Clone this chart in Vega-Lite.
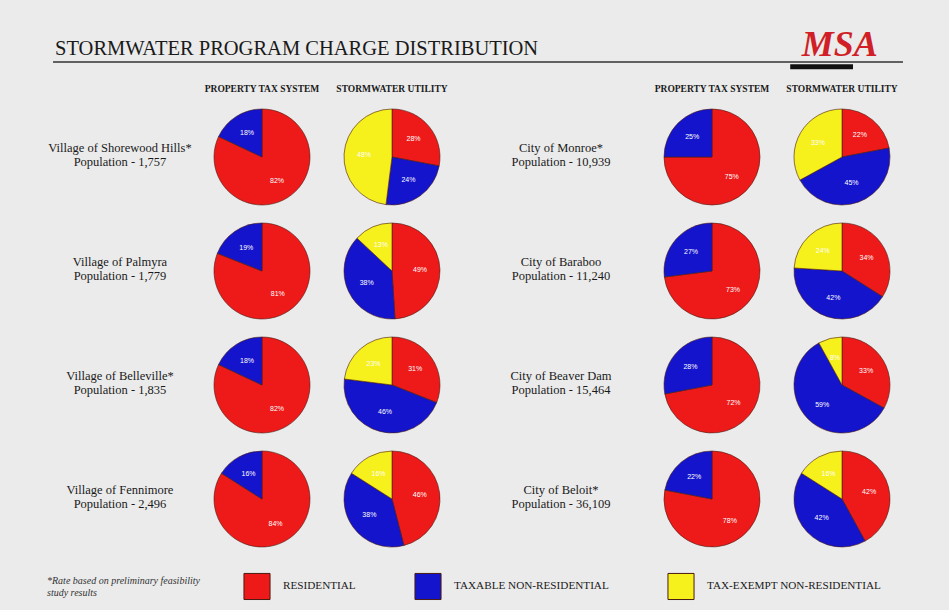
{
  "$schema": "https://vega.github.io/schema/vega-lite/v6.json",
  "background": "#ebebeb",
  "padding": {"left": 47, "top": 27, "right": 50, "bottom": 13},
  "config": {
    "view": {"stroke": null},
    "font": "Liberation Serif",
    "header": {"labelFont": "Liberation Serif", "titleFont": "Liberation Serif"}
  },
  "datasets": {
    "pies": [
      {"side": "L", "rowIdx": 1, "place": "Village of Shorewood Hills*|Population - 1,757", "system": "PROPERTY TAX SYSTEM", "category": "RESIDENTIAL", "k": 1, "pct": 0.82},
      {"side": "L", "rowIdx": 1, "place": "Village of Shorewood Hills*|Population - 1,757", "system": "PROPERTY TAX SYSTEM", "category": "TAXABLE NON-RESIDENTIAL", "k": 2, "pct": 0.18},
      {"side": "L", "rowIdx": 1, "place": "Village of Shorewood Hills*|Population - 1,757", "system": "STORMWATER UTILITY", "category": "RESIDENTIAL", "k": 1, "pct": 0.28},
      {"side": "L", "rowIdx": 1, "place": "Village of Shorewood Hills*|Population - 1,757", "system": "STORMWATER UTILITY", "category": "TAXABLE NON-RESIDENTIAL", "k": 2, "pct": 0.24},
      {"side": "L", "rowIdx": 1, "place": "Village of Shorewood Hills*|Population - 1,757", "system": "STORMWATER UTILITY", "category": "TAX-EXEMPT NON-RESIDENTIAL", "k": 3, "pct": 0.48},
      {"side": "L", "rowIdx": 2, "place": "Village of Palmyra|Population - 1,779", "system": "PROPERTY TAX SYSTEM", "category": "RESIDENTIAL", "k": 1, "pct": 0.81},
      {"side": "L", "rowIdx": 2, "place": "Village of Palmyra|Population - 1,779", "system": "PROPERTY TAX SYSTEM", "category": "TAXABLE NON-RESIDENTIAL", "k": 2, "pct": 0.19},
      {"side": "L", "rowIdx": 2, "place": "Village of Palmyra|Population - 1,779", "system": "STORMWATER UTILITY", "category": "RESIDENTIAL", "k": 1, "pct": 0.49},
      {"side": "L", "rowIdx": 2, "place": "Village of Palmyra|Population - 1,779", "system": "STORMWATER UTILITY", "category": "TAXABLE NON-RESIDENTIAL", "k": 2, "pct": 0.38},
      {"side": "L", "rowIdx": 2, "place": "Village of Palmyra|Population - 1,779", "system": "STORMWATER UTILITY", "category": "TAX-EXEMPT NON-RESIDENTIAL", "k": 3, "pct": 0.13},
      {"side": "L", "rowIdx": 3, "place": "Village of Belleville*|Population - 1,835", "system": "PROPERTY TAX SYSTEM", "category": "RESIDENTIAL", "k": 1, "pct": 0.82},
      {"side": "L", "rowIdx": 3, "place": "Village of Belleville*|Population - 1,835", "system": "PROPERTY TAX SYSTEM", "category": "TAXABLE NON-RESIDENTIAL", "k": 2, "pct": 0.18},
      {"side": "L", "rowIdx": 3, "place": "Village of Belleville*|Population - 1,835", "system": "STORMWATER UTILITY", "category": "RESIDENTIAL", "k": 1, "pct": 0.31},
      {"side": "L", "rowIdx": 3, "place": "Village of Belleville*|Population - 1,835", "system": "STORMWATER UTILITY", "category": "TAXABLE NON-RESIDENTIAL", "k": 2, "pct": 0.46},
      {"side": "L", "rowIdx": 3, "place": "Village of Belleville*|Population - 1,835", "system": "STORMWATER UTILITY", "category": "TAX-EXEMPT NON-RESIDENTIAL", "k": 3, "pct": 0.23},
      {"side": "L", "rowIdx": 4, "place": "Village of Fennimore|Population - 2,496", "system": "PROPERTY TAX SYSTEM", "category": "RESIDENTIAL", "k": 1, "pct": 0.84},
      {"side": "L", "rowIdx": 4, "place": "Village of Fennimore|Population - 2,496", "system": "PROPERTY TAX SYSTEM", "category": "TAXABLE NON-RESIDENTIAL", "k": 2, "pct": 0.16},
      {"side": "L", "rowIdx": 4, "place": "Village of Fennimore|Population - 2,496", "system": "STORMWATER UTILITY", "category": "RESIDENTIAL", "k": 1, "pct": 0.46},
      {"side": "L", "rowIdx": 4, "place": "Village of Fennimore|Population - 2,496", "system": "STORMWATER UTILITY", "category": "TAXABLE NON-RESIDENTIAL", "k": 2, "pct": 0.38},
      {"side": "L", "rowIdx": 4, "place": "Village of Fennimore|Population - 2,496", "system": "STORMWATER UTILITY", "category": "TAX-EXEMPT NON-RESIDENTIAL", "k": 3, "pct": 0.16},
      {"side": "R", "rowIdx": 1, "place": "City of Monroe*|Population - 10,939", "system": "PROPERTY TAX SYSTEM", "category": "RESIDENTIAL", "k": 1, "pct": 0.75},
      {"side": "R", "rowIdx": 1, "place": "City of Monroe*|Population - 10,939", "system": "PROPERTY TAX SYSTEM", "category": "TAXABLE NON-RESIDENTIAL", "k": 2, "pct": 0.25},
      {"side": "R", "rowIdx": 1, "place": "City of Monroe*|Population - 10,939", "system": "STORMWATER UTILITY", "category": "RESIDENTIAL", "k": 1, "pct": 0.22},
      {"side": "R", "rowIdx": 1, "place": "City of Monroe*|Population - 10,939", "system": "STORMWATER UTILITY", "category": "TAXABLE NON-RESIDENTIAL", "k": 2, "pct": 0.45},
      {"side": "R", "rowIdx": 1, "place": "City of Monroe*|Population - 10,939", "system": "STORMWATER UTILITY", "category": "TAX-EXEMPT NON-RESIDENTIAL", "k": 3, "pct": 0.33},
      {"side": "R", "rowIdx": 2, "place": "City of Baraboo|Population - 11,240", "system": "PROPERTY TAX SYSTEM", "category": "RESIDENTIAL", "k": 1, "pct": 0.73},
      {"side": "R", "rowIdx": 2, "place": "City of Baraboo|Population - 11,240", "system": "PROPERTY TAX SYSTEM", "category": "TAXABLE NON-RESIDENTIAL", "k": 2, "pct": 0.27},
      {"side": "R", "rowIdx": 2, "place": "City of Baraboo|Population - 11,240", "system": "STORMWATER UTILITY", "category": "RESIDENTIAL", "k": 1, "pct": 0.34},
      {"side": "R", "rowIdx": 2, "place": "City of Baraboo|Population - 11,240", "system": "STORMWATER UTILITY", "category": "TAXABLE NON-RESIDENTIAL", "k": 2, "pct": 0.42},
      {"side": "R", "rowIdx": 2, "place": "City of Baraboo|Population - 11,240", "system": "STORMWATER UTILITY", "category": "TAX-EXEMPT NON-RESIDENTIAL", "k": 3, "pct": 0.24},
      {"side": "R", "rowIdx": 3, "place": "City of Beaver Dam|Population - 15,464", "system": "PROPERTY TAX SYSTEM", "category": "RESIDENTIAL", "k": 1, "pct": 0.72},
      {"side": "R", "rowIdx": 3, "place": "City of Beaver Dam|Population - 15,464", "system": "PROPERTY TAX SYSTEM", "category": "TAXABLE NON-RESIDENTIAL", "k": 2, "pct": 0.28},
      {"side": "R", "rowIdx": 3, "place": "City of Beaver Dam|Population - 15,464", "system": "STORMWATER UTILITY", "category": "RESIDENTIAL", "k": 1, "pct": 0.33},
      {"side": "R", "rowIdx": 3, "place": "City of Beaver Dam|Population - 15,464", "system": "STORMWATER UTILITY", "category": "TAXABLE NON-RESIDENTIAL", "k": 2, "pct": 0.59},
      {"side": "R", "rowIdx": 3, "place": "City of Beaver Dam|Population - 15,464", "system": "STORMWATER UTILITY", "category": "TAX-EXEMPT NON-RESIDENTIAL", "k": 3, "pct": 0.08},
      {"side": "R", "rowIdx": 4, "place": "City of Beloit*|Population - 36,109", "system": "PROPERTY TAX SYSTEM", "category": "RESIDENTIAL", "k": 1, "pct": 0.78},
      {"side": "R", "rowIdx": 4, "place": "City of Beloit*|Population - 36,109", "system": "PROPERTY TAX SYSTEM", "category": "TAXABLE NON-RESIDENTIAL", "k": 2, "pct": 0.22},
      {"side": "R", "rowIdx": 4, "place": "City of Beloit*|Population - 36,109", "system": "STORMWATER UTILITY", "category": "RESIDENTIAL", "k": 1, "pct": 0.42},
      {"side": "R", "rowIdx": 4, "place": "City of Beloit*|Population - 36,109", "system": "STORMWATER UTILITY", "category": "TAXABLE NON-RESIDENTIAL", "k": 2, "pct": 0.42},
      {"side": "R", "rowIdx": 4, "place": "City of Beloit*|Population - 36,109", "system": "STORMWATER UTILITY", "category": "TAX-EXEMPT NON-RESIDENTIAL", "k": 3, "pct": 0.16}
    ]
  },
  "spacing": 13,
  "vconcat": [
    {
      "width": 690,
      "height": 6,
      "data": {"values": [{"title": "STORMWATER PROGRAM CHARGE DISTRIBUTION", "logo": "MSA"}]},
      "layer": [
        {
          "mark": {"type": "rule", "color": "#333333", "strokeWidth": 1.5},
          "encoding": {
            "x": {"datum": -0.2304, "type": "quantitative", "scale": {"domain": [0, 1]}, "axis": null},
            "x2": {"datum": 1.0014},
            "y": {"datum": 0, "type": "quantitative", "scale": {"domain": [0, 1]}, "axis": null}
          }
        },
        {
          "mark": {"type": "rule", "color": "#111111", "strokeWidth": 5},
          "encoding": {
            "x": {"datum": 0.838, "type": "quantitative"},
            "x2": {"datum": 0.929},
            "y": {"datum": -0.8, "type": "quantitative"}
          }
        },
        {
          "mark": {"type": "text", "color": "#1a1a1a", "font": "Liberation Serif", "fontSize": 20.5, "align": "left", "baseline": "alphabetic", "dy": -7},
          "encoding": {
            "x": {"datum": -0.2275, "type": "quantitative"},
            "y": {"datum": 0, "type": "quantitative"},
            "text": {"field": "title"}
          }
        },
        {
          "mark": {"type": "text", "color": "#d01f26", "font": "Liberation Sans Narrow", "fontSize": 36, "fontWeight": "bold", "fontStyle": "italic", "align": "right", "baseline": "alphabetic", "dy": -6},
          "encoding": {
            "x": {"datum": 0.965, "type": "quantitative"},
            "y": {"datum": 0, "type": "quantitative"},
            "text": {"field": "logo"}
          }
        }
      ]
    },
    {
      "hconcat": [
        {
          "data": {"name": "pies"},
          "transform": [{"filter": "datum.side === 'L'"}],
          "facet": {
            "row": {"field": "place", "type": "nominal", "sort": {"field": "rowIdx", "op": "min"}, "title": null, "header": {"labels": false}},
            "column": {"field": "system", "type": "nominal", "sort": ["PROPERTY TAX SYSTEM", "STORMWATER UTILITY"], "title": null,
              "header": {"labelFontSize": 9.5, "labelFontWeight": "bold", "labelColor": "#1a1a1a", "labelPadding": 14}}
          },
          "spacing": {"row": 14, "column": 30},
          "spec": {
            "width": 100,
            "height": 100,
            "layer": [
              {
                "mark": {"type": "arc", "outerRadius": 48, "stroke": "#4a1a10", "strokeWidth": 1, "strokeOpacity": 0.6},
                "encoding": {
                  "theta": {"field": "pct", "type": "quantitative", "stack": true},
                  "order": {"field": "k"},
                  "color": {"field": "category", "type": "nominal",
                    "scale": {"domain": ["RESIDENTIAL", "TAXABLE NON-RESIDENTIAL", "TAX-EXEMPT NON-RESIDENTIAL"], "range": ["#ee1a1a", "#1414cc", "#f6f01c"]},
                    "legend": {"orient": "none", "legendX": -165, "legendY": 516, "direction": "horizontal", "title": ["*Rate based on preliminary feasibility", "study results"], "titleOrient": "left", "titleFontSize": 10, "titleFontWeight": "normal", "titleFontStyle": "italic", "titleColor": "#333333", "titlePadding": 43, "titleFont": "Liberation Serif", "titleLimit": 300, "symbolType": "square", "symbolSize": 680, "symbolStrokeColor": "#333333", "symbolStrokeWidth": 1, "symbolOpacity": 1, "labelFontSize": 11.2, "labelFont": "Liberation Serif", "labelColor": "#1a1a1a", "labelOffset": 12, "columnPadding": 56, "labelLimit": 300}}
                }
              },
              {
                "mark": {"type": "text", "radius": 28, "color": "white", "fontSize": 7, "font": "Liberation Sans"},
                "encoding": {
                  "theta": {"field": "pct", "type": "quantitative", "stack": true},
                  "order": {"field": "k"},
                  "detail": {"field": "category"},
                  "text": {"field": "pct", "type": "quantitative", "format": ".0%"}
                }
              },
              {
                "transform": [{"filter": "datum.system === 'PROPERTY TAX SYSTEM' && datum.k === 1"}],
                "mark": {"type": "text", "dx": -142, "dy": -9, "lineBreak": "|", "lineHeight": 14, "fontSize": 12.5, "color": "#1a1a1a", "font": "Liberation Serif", "align": "center", "baseline": "middle"},
                "encoding": {"text": {"field": "place"}}
              }
            ]
          }
        },
        {
          "data": {"name": "pies"},
          "transform": [{"filter": "datum.side === 'R'"}],
          "facet": {
            "row": {"field": "place", "type": "nominal", "sort": {"field": "rowIdx", "op": "min"}, "title": null, "header": {"labels": false}},
            "column": {"field": "system", "type": "nominal", "sort": ["PROPERTY TAX SYSTEM", "STORMWATER UTILITY"], "title": null,
              "header": {"labelFontSize": 9.5, "labelFontWeight": "bold", "labelColor": "#1a1a1a", "labelPadding": 14}}
          },
          "spacing": {"row": 14, "column": 30},
          "spec": {
            "width": 100,
            "height": 100,
            "layer": [
              {
                "mark": {"type": "arc", "outerRadius": 48, "stroke": "#4a1a10", "strokeWidth": 1, "strokeOpacity": 0.6},
                "encoding": {
                  "theta": {"field": "pct", "type": "quantitative", "stack": true},
                  "order": {"field": "k"},
                  "color": {"field": "category", "type": "nominal"}
                }
              },
              {
                "mark": {"type": "text", "radius": 28, "color": "white", "fontSize": 7, "font": "Liberation Sans"},
                "encoding": {
                  "theta": {"field": "pct", "type": "quantitative", "stack": true},
                  "order": {"field": "k"},
                  "detail": {"field": "category"},
                  "text": {"field": "pct", "type": "quantitative", "format": ".0%"}
                }
              },
              {
                "transform": [{"filter": "datum.system === 'PROPERTY TAX SYSTEM' && datum.k === 1"}],
                "mark": {"type": "text", "dx": -151, "dy": -9, "lineBreak": "|", "lineHeight": 14, "fontSize": 12.5, "color": "#1a1a1a", "font": "Liberation Serif", "align": "center", "baseline": "middle"},
                "encoding": {"text": {"field": "place"}}
              }
            ]
          }
        }
      ],
      "spacing": 62
    }
  ]
}
